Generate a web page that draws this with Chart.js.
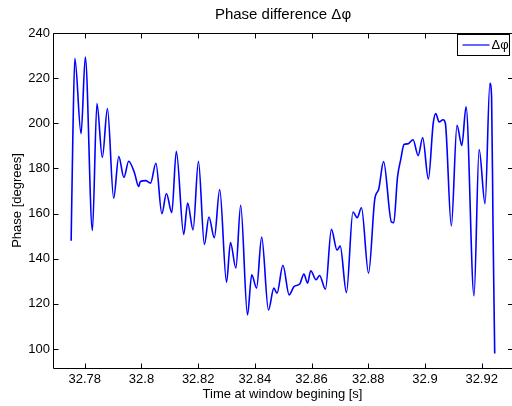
<!DOCTYPE html>
<html>
<head>
<meta charset="utf-8">
<title>Phase difference</title>
<script src="https://cdn.jsdelivr.net/npm/chart.js@4.4.1/dist/chart.umd.min.js"></script>
<style>
  html, body { margin: 0; padding: 0; background: #fff; }
  #wrap { width: 512px; height: 406px; }
</style>
</head>
<body>
<div id="wrap"><canvas id="phaseChart" width="512" height="406"></canvas></div>
<script>
// window start time [s]
const times = [
  32.7752, 32.7758, 32.7765, 32.7787, 32.7802, 32.7827, 32.7843, 32.7862, 32.7880, 32.7902,
  32.7920, 32.7938, 32.7955, 32.7976, 32.7990, 32.7996, 32.8015, 32.8032, 32.8051, 32.8072,
  32.8088, 32.8107, 32.8123, 32.8149, 32.8163, 32.8182, 32.8201, 32.8222, 32.8238, 32.8257,
  32.8276, 32.8300, 32.8314, 32.8333, 32.8350, 32.8374, 32.8389, 32.8406, 32.8424, 32.8448,
  32.8467, 32.8478, 32.8499, 32.8521, 32.8538, 32.8558, 32.8573, 32.8586, 32.8597, 32.8616,
  32.8628, 32.8649, 32.8670, 32.8690, 32.8701, 32.8723, 32.8746, 32.8761, 32.8776, 32.8801,
  32.8823, 32.8837, 32.8854, 32.8882, 32.8890, 32.8903, 32.8915, 32.8926, 32.8940, 32.8958,
  32.8976, 32.8992, 32.9012, 32.9029, 32.9038, 32.9050, 32.9064, 32.9072, 32.9093, 32.9113,
  32.9130, 32.9145, 32.9173, 32.9191, 32.9212, 32.9229, 32.9235, 32.9240, 32.9246
];

// phase difference [degrees]
const phase = [
  148.0, 194.0, 228.8, 195.4, 229.3, 152.5, 208.8, 184.9, 206.5, 166.8,
  185.3, 176.0, 183.2, 177.8, 172.0, 174.2, 174.6, 173.5, 182.3, 160.0,
  168.9, 160.4, 187.6, 150.8, 164.7, 152.8, 183.2, 146.3, 158.5, 149.3,
  170.7, 129.6, 147.2, 135.9, 163.7, 115.1, 132.9, 127.0, 149.6, 117.3,
  127.0, 124.7, 137.1, 124.0, 127.7, 128.8, 133.2, 129.2, 134.7, 130.7,
  132.6, 126.5, 153.0, 143.8, 145.6, 125.0, 160.7, 158.2, 162.6, 133.6,
  166.4, 170.9, 183.0, 156.2, 156.0, 176.0, 184.2, 190.6, 190.9, 192.7,
  185.7, 193.6, 175.3, 199.9, 204.3, 200.6, 201.6, 199.9, 154.5, 199.1,
  190.2, 207.3, 123.6, 188.4, 164.4, 217.7, 211.7, 155.2, 98.0
];

const xTicks = [32.78, 32.80, 32.82, 32.84, 32.86, 32.88, 32.90, 32.92];
const yTicks = [100, 120, 140, 160, 180, 200, 220, 240];

const FONT = 'Arial, "Liberation Sans", Helvetica, sans-serif';
const TICK_LEN = 5;

// matlab-like frame: axes lines, inward ticks on all sides, title and boxed legend
const frame = {
  id: 'frame',
  afterDraw(chart) {
    const { ctx, chartArea: a, scales } = chart;
    const L = a.left + 0.5, T = a.top + 0.5, B = a.bottom + 0.5;
    ctx.save();
    ctx.strokeStyle = '#000';
    ctx.lineWidth = 1;
    ctx.beginPath();
    ctx.moveTo(L, B); ctx.lineTo(L, T); ctx.lineTo(a.right + 2, T);
    ctx.moveTo(L, B); ctx.lineTo(a.right + 2, B);
    ctx.stroke();

    ctx.beginPath();
    scales.x.ticks.forEach(t => {
      const px = Math.round(scales.x.getPixelForValue(t.value)) + 0.5;
      ctx.moveTo(px, B); ctx.lineTo(px, B - TICK_LEN);
      ctx.moveTo(px, T); ctx.lineTo(px, T + TICK_LEN);
    });
    scales.y.ticks.forEach(t => {
      const py = Math.round(scales.y.getPixelForValue(t.value)) + 0.5;
      ctx.moveTo(L, py); ctx.lineTo(L + TICK_LEN, py);
      ctx.moveTo(a.right + 1, py); ctx.lineTo(a.right + 1 - TICK_LEN, py);
    });
    ctx.stroke();

    // title
    ctx.fillStyle = '#000';
    ctx.font = '15px ' + FONT;
    ctx.textAlign = 'center';
    ctx.textBaseline = 'middle';
    ctx.fillText('Phase difference \u0394\u03c6', (a.left + a.right) / 2 + 0.5, 15);

    // legend
    const ds = chart.data.datasets[0];
    const lx = 457.5, ly = 34.5, lw = 52, lh = 21;
    ctx.fillStyle = '#fff';
    ctx.fillRect(lx, ly, lw, lh);
    ctx.strokeStyle = '#000';
    ctx.lineWidth = 1;
    ctx.strokeRect(lx, ly, lw, lh);
    ctx.strokeStyle = ds.borderColor;
    ctx.lineWidth = 1.2;
    ctx.beginPath();
    ctx.moveTo(lx + 5, ly + lh / 2);
    ctx.lineTo(lx + 32, ly + lh / 2);
    ctx.stroke();
    ctx.fillStyle = '#000';
    ctx.font = '13px ' + FONT;
    ctx.textAlign = 'left';
    ctx.fillText(ds.label, lx + 34, ly + lh / 2 + 0.5);
    ctx.restore();
  }
};

new Chart(document.getElementById('phaseChart'), {
  type: 'line',
  data: {
    datasets: [{
      label: '\u0394\u03c6',
      data: times.map((t, i) => ({ x: t, y: phase[i] })),
      borderColor: '#0000ff',
      borderWidth: 1.6,
      pointRadius: 0,
      fill: false,
      cubicInterpolationMode: 'monotone'
    }]
  },
  options: {
    responsive: false,
    animation: false,
    layout: { padding: { top: 33, right: 0, left: 0, bottom: 0 } },
    plugins: {
      legend: { display: false },
      title: { display: false },
      tooltip: { enabled: false }
    },
    scales: {
      x: {
        type: 'linear',
        min: 32.7688,
        max: 32.9307,
        grid: { display: false, drawTicks: false },
        border: { display: false },
        afterBuildTicks: s => { s.ticks = xTicks.map(v => ({ value: v })); },
        afterFit: s => { s.height = 38; },
        ticks: {
          autoSkip: false,
          maxRotation: 0,
          padding: 4,
          color: '#000',
          font: { family: FONT, size: 13 },
          callback: v => String(+v.toFixed(2))
        },
        title: {
          display: true,
          text: 'Time at window begining [s]',
          color: '#000',
          font: { family: FONT, size: 13 },
          padding: { top: 0, bottom: 4 }
        }
      },
      y: {
        min: 91.6,
        max: 240,
        grid: { display: false, drawTicks: false },
        border: { display: false },
        afterBuildTicks: s => { s.ticks = yTicks.map(v => ({ value: v })); },
        afterFit: s => { s.width = 53; },
        ticks: {
          padding: 3,
          color: '#000',
          font: { family: FONT, size: 13 }
        },
        title: {
          display: true,
          text: 'Phase [degrees]',
          color: '#000',
          font: { family: FONT, size: 13 },
          padding: { top: 10, bottom: 0 }
        }
      }
    }
  },
  plugins: [frame]
});
</script>
</body>
</html>
